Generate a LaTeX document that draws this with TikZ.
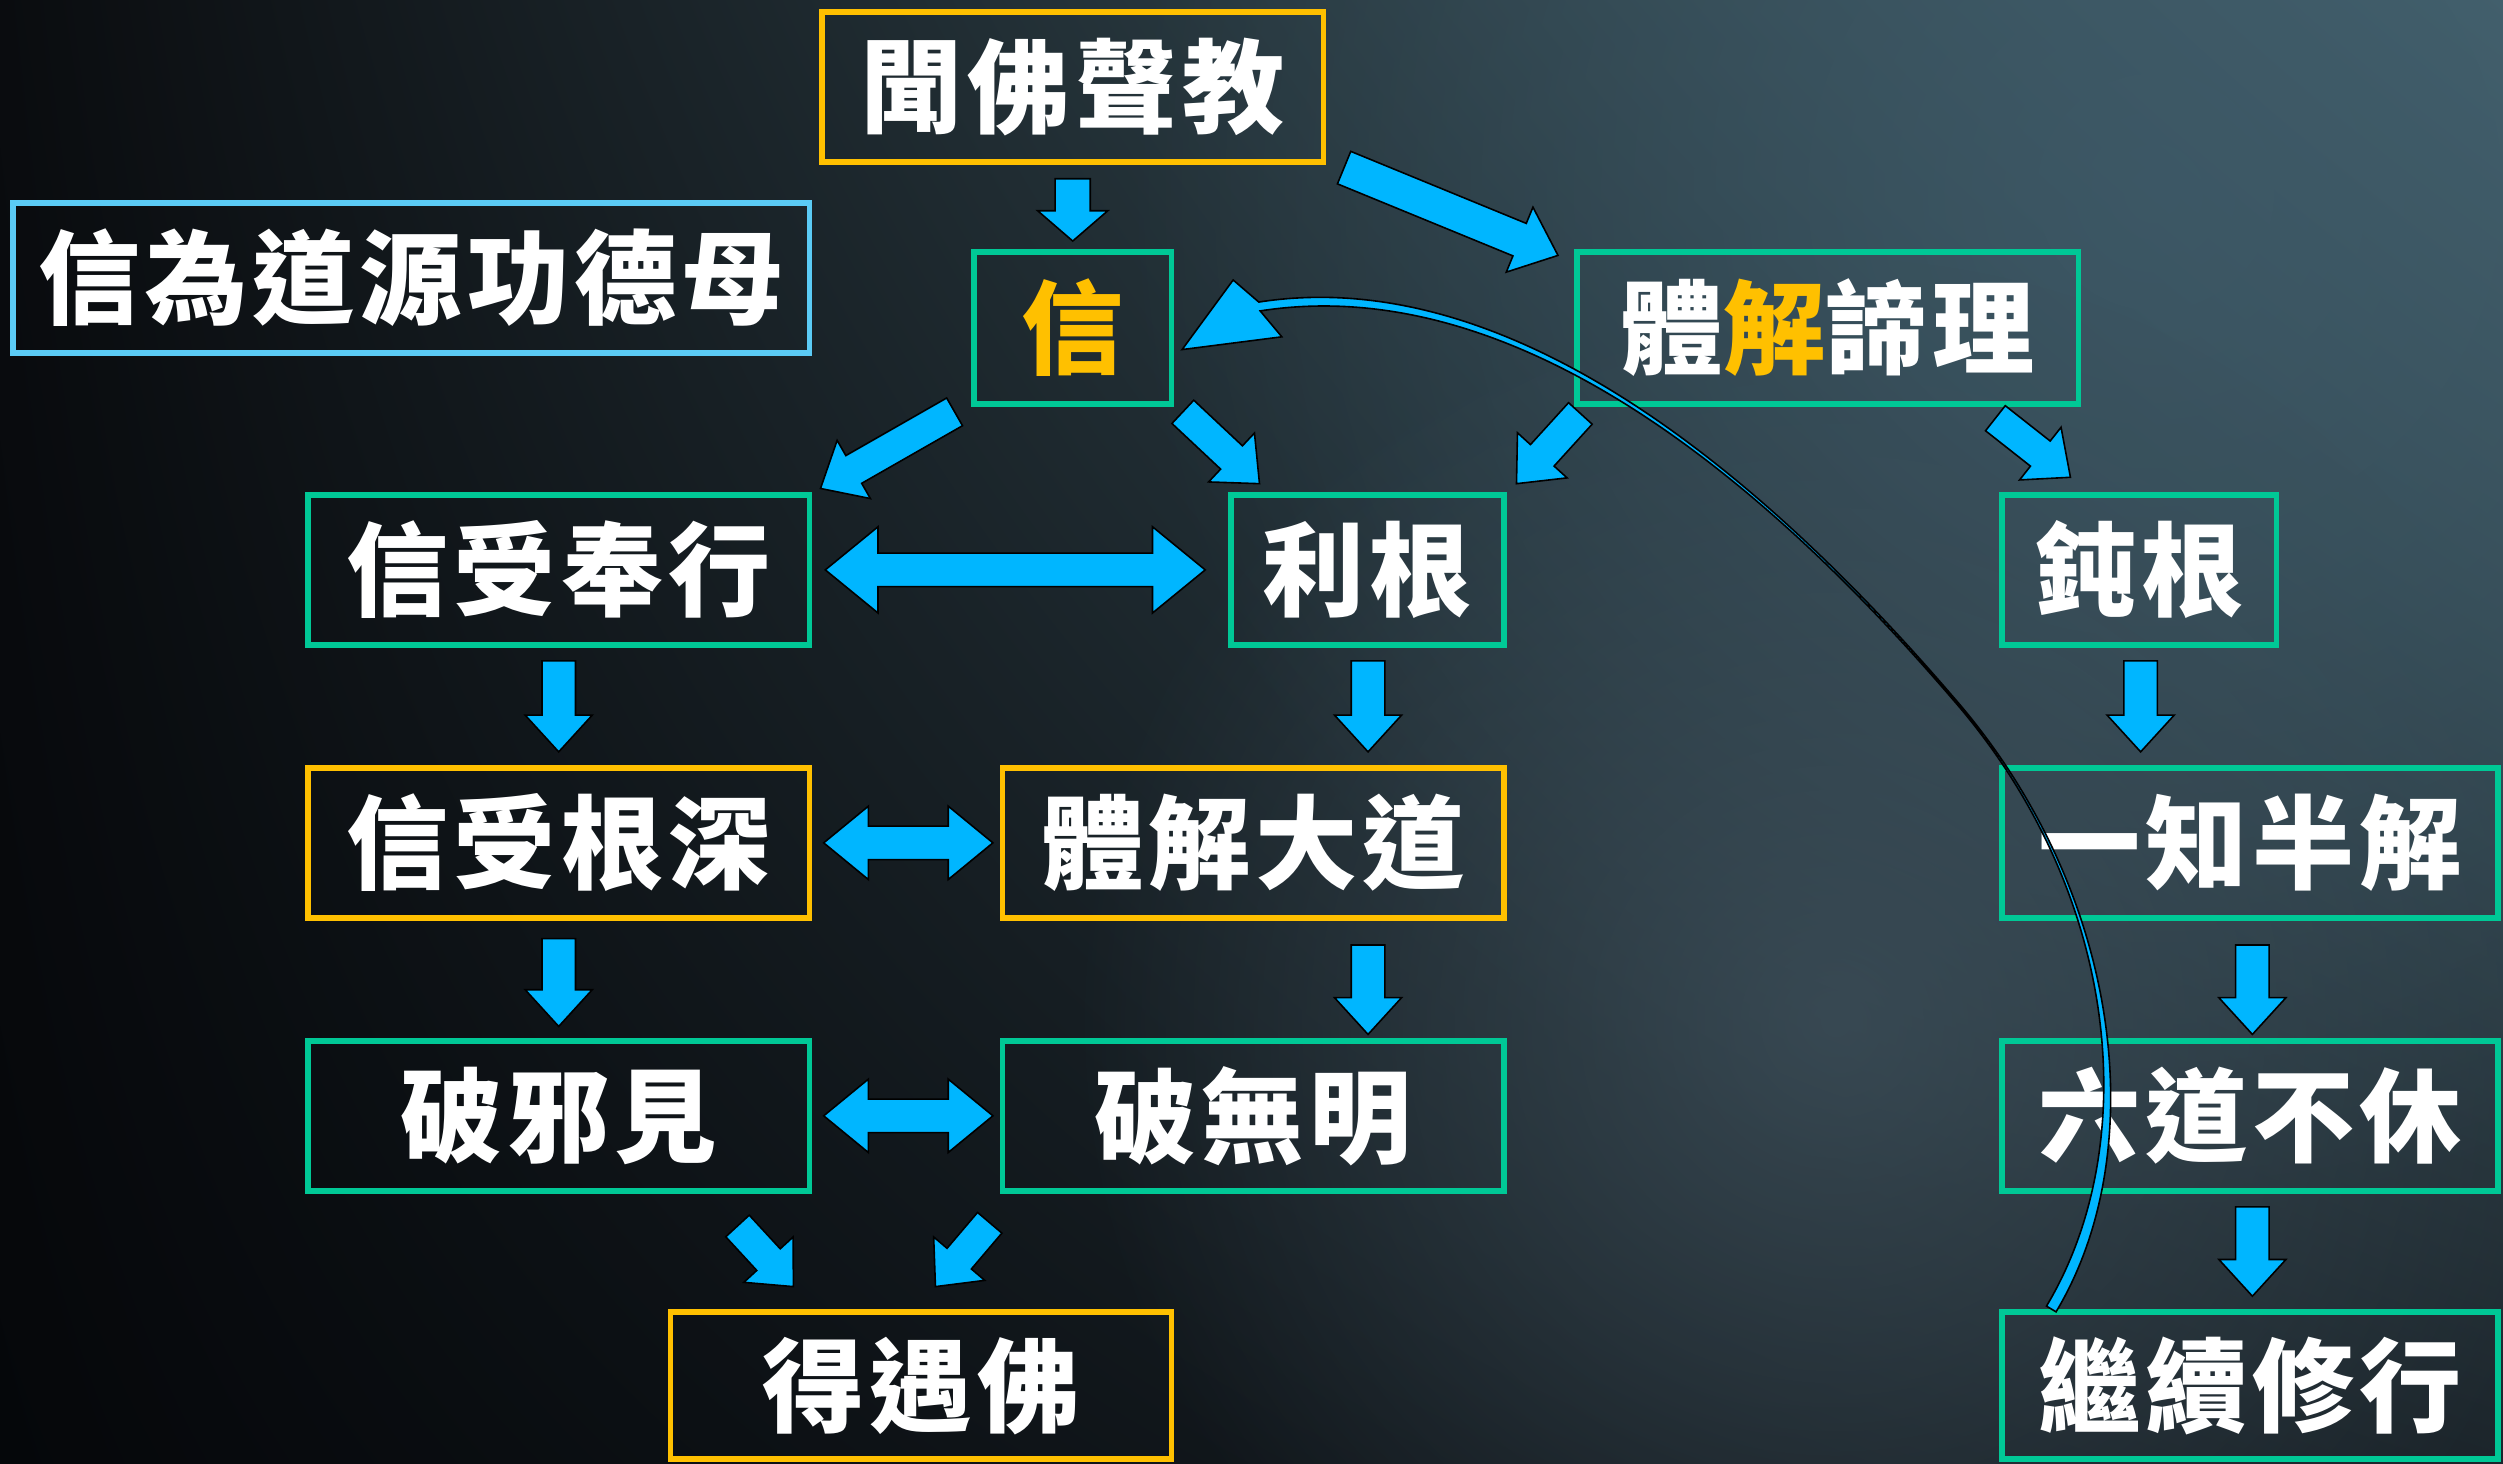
\documentclass[tikz,border=0pt]{standalone}
\usepackage{fontspec}
\newfontfamily\cjk[LetterSpace=5]{Noto Sans CJK TC}
\usetikzlibrary{calc,fadings,shadings}
\definecolor{boxgreen}{HTML}{00C896}
\definecolor{boxorange}{HTML}{FFC000}
\definecolor{boxblue}{HTML}{5BCBF5}
\definecolor{arrblue}{HTML}{00B6FF}
\definecolor{txtorange}{HTML}{FFC000}
\definecolor{bgul}{HTML}{0A0C0F}
\definecolor{bgur}{HTML}{46646F}
\definecolor{bgll}{HTML}{05070A}
\definecolor{bglr}{HTML}{1C252B}
\definecolor{globe}{HTML}{3F515C}
\definecolor{skyblue}{HTML}{3E5A69}
\tikzfading[name=softspot, inner color=transparent!25, outer color=transparent!100]
% block arrow: shaft half width, head half width, head length, from, to
\newcommand\blockarrow[5]{%
  \draw[arrowstyle] ($(#4)!#1!90:(#5)$) -- ($(#5)!#3!(#4)!#1!-90:(#4)$)
    -- ($(#5)!#3!(#4)!#2!-90:(#4)$) -- (#5)
    -- ($(#5)!#3!(#4)!#2!90:(#4)$) -- ($(#5)!#3!(#4)!#1!90:(#4)$)
    -- ($(#4)!#1!-90:(#5)$) -- cycle;}
\newcommand\dblarrow[5]{%
  \draw[arrowstyle] (#4) -- ($(#4)!#3!(#5)!#2!90:(#5)$) -- ($(#4)!#3!(#5)!#1!90:(#5)$)
    -- ($(#5)!#3!(#4)!#1!-90:(#4)$) -- ($(#5)!#3!(#4)!#2!-90:(#4)$) -- (#5)
    -- ($(#5)!#3!(#4)!#2!90:(#4)$) -- ($(#5)!#3!(#4)!#1!90:(#4)$)
    -- ($(#4)!#3!(#5)!#1!-90:(#5)$) -- ($(#4)!#3!(#5)!#2!-90:(#5)$) -- cycle;}
\begin{document}
\begin{tikzpicture}[x=1pt,y=-1pt,
  box/.style={line width=3.5pt, minimum height=94pt, inner sep=0pt, text=white,
    font=\cjk\bfseries\fontsize{64}{70}\selectfont},
  gbox/.style={box, draw=boxgreen},
  obox/.style={box, draw=boxorange},
  bbox/.style={box, draw=boxblue},
  arrowstyle/.style={fill=arrblue, draw=black, line width=1pt, line join=miter}]
% background
\useasboundingbox (0,0) rectangle (1568,917);
\shade[upper left=bgul, upper right=bgur, lower left=bgll, lower right=bglr] (0,0) rectangle (1568,917);
\begin{scope}
\clip (0,0) rectangle (1568,917);
\fill[skyblue, path fading=softspot] (1350,120) circle (650);
\fill[globe, path fading=softspot] (1150,640) circle (480);
\end{scope}
% boxes
\node[obox, minimum width=314pt] (wen) at (672,54.5) {聞佛聲教};
\node[bbox, minimum width=499pt] (motto) at (257.5,174) {信為道源功德母};
\node[gbox, minimum width=124pt, minimum height=95pt] (xin) at (672,205.5) {\textcolor{txtorange}{信}};
\node[gbox, minimum width=314pt, minimum height=95pt] (tijie) at (1145,205.5) {體\textcolor{txtorange}{解}諦理};
\node[gbox, minimum width=314pt] (xsfx) at (350,357) {信受奉行};
\node[gbox, minimum width=171pt] (ligen) at (856.5,357) {利根};
\node[gbox, minimum width=172pt] (dungen) at (1340,357) {鈍根};
\node[obox, minimum width=314pt] (xsgs) at (350,528) {信受根深};
\node[obox, minimum width=314pt] (tjdd) at (785,528) {體解大道};
\node[gbox, minimum width=311pt] (yzbj) at (1409.5,528) {一知半解};
\node[gbox, minimum width=314pt] (pxj) at (350,699) {破邪見};
\node[gbox, minimum width=314pt] (pwm) at (785,699) {破無明};
\node[gbox, minimum width=311pt] (ldbx) at (1409.5,699) {六道不休};
\node[obox, minimum width=314pt, minimum height=92pt] (dyf) at (577,868) {得遇佛};
\node[gbox, minimum width=311pt, minimum height=92pt] (jxxx) at (1409.5,868) {繼續修行};
% arrow end points
\coordinate (a1s) at (672,112);   \coordinate (a1e) at (672,151);
\coordinate (a2s) at (842,105);   \coordinate (a2e) at (976,160);
\coordinate (a3s) at (598,258);   \coordinate (a3e) at (514,306);
\coordinate (a4s) at (741,258);   \coordinate (a4e) at (789,303);
\coordinate (a5s) at (990,259);   \coordinate (a5e) at (950,303);
\coordinate (a6s) at (1250,262);  \coordinate (a6e) at (1297,299);
\coordinate (a7s) at (517,357);   \coordinate (a7e) at (755,357);
\coordinate (a8s) at (516,528);   \coordinate (a8e) at (622,528);
\coordinate (a9s) at (516,699);   \coordinate (a9e) at (622,699);
\coordinate (a10s) at (350,414);  \coordinate (a10e) at (350,471);
\coordinate (a11s) at (857,414);  \coordinate (a11e) at (857,471);
\coordinate (a12s) at (1341,414); \coordinate (a12e) at (1341,471);
\coordinate (a13s) at (350,588);  \coordinate (a13e) at (350,643);
\coordinate (a14s) at (857,592);  \coordinate (a14e) at (857,648);
\coordinate (a15s) at (1411,592); \coordinate (a15e) at (1411,648);
\coordinate (a16s) at (1411,756); \coordinate (a16e) at (1411,812);
\coordinate (a17s) at (462,768);  \coordinate (a17e) at (497,806);
\coordinate (a18s) at (620,766);  \coordinate (a18e) at (586,806);
% arrows
\blockarrow{11pt}{22pt}{19pt}{a1s}{a1e}
\blockarrow{11pt}{22pt}{26pt}{a2s}{a2e}
\blockarrow{10pt}{21pt}{24pt}{a3s}{a3e}
\blockarrow{10pt}{21pt}{24pt}{a4s}{a4e}
\blockarrow{10pt}{21pt}{24pt}{a5s}{a5e}
\blockarrow{10pt}{21pt}{24pt}{a6s}{a6e}
\dblarrow{10.5pt}{27pt}{33pt}{a7s}{a7e}
\dblarrow{10.5pt}{23pt}{28pt}{a8s}{a8e}
\dblarrow{10.5pt}{23pt}{28pt}{a9s}{a9e}
\blockarrow{10.5pt}{21pt}{23pt}{a10s}{a10e}
\blockarrow{10.5pt}{21pt}{23pt}{a11s}{a11e}
\blockarrow{10.5pt}{21pt}{23pt}{a12s}{a12e}
\blockarrow{10.5pt}{21pt}{23pt}{a13s}{a13e}
\blockarrow{10.5pt}{21pt}{23pt}{a14s}{a14e}
\blockarrow{10.5pt}{21pt}{23pt}{a15s}{a15e}
\blockarrow{10.5pt}{21pt}{23pt}{a16s}{a16e}
\blockarrow{10pt}{21pt}{23pt}{a17s}{a17e}
\blockarrow{10pt}{21pt}{23pt}{a18s}{a18e}
% curved return arrow from 繼續修行 to 信
\draw[arrowstyle] (1282,818.2) .. controls (1342,718.2) and (1329.55,560.39) .. (1223.55,438.4)
  .. controls (1079.54,270.4) and (930.43,172.77) .. (789.43,194.77)
  -- (803,211) -- (740.5,219) -- (772.5,175.4) -- (788.57,189.23)
  .. controls (929.57,167.23) and (1080.46,269.6) .. (1224.46,437.6)
  .. controls (1330.45,559.6) and (1348,721.8) .. (1288,821.8) -- cycle;
\end{tikzpicture}
\end{document}
